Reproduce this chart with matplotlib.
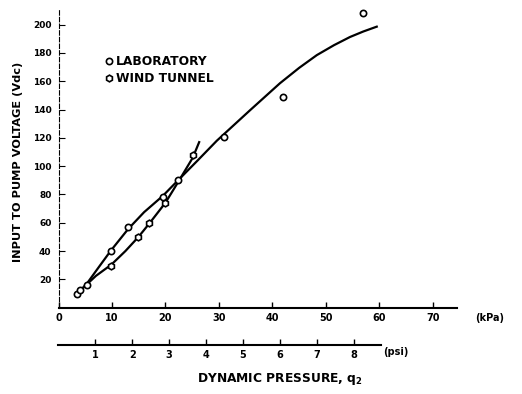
import matplotlib.pyplot as plt
import numpy as np
from matplotlib.lines import Line2D

# points (kPa, Vdc)
lab_q = [3.4, 4.0, 5.3, 9.8, 13.0, 19.5, 22.4, 30.9, 41.9, 57.0]
lab_v = [9.5, 12.5, 16.1, 40.4, 56.8, 78.4, 90.2, 120.8, 149.0, 208.0]

wt_q = [9.9, 14.9, 17.0, 20.0, 25.1]
wt_v = [29.8, 49.8, 59.6, 74.2, 107.9]

# faired curves
lab_curve_q = [3.4, 5.3, 7.5, 9.8, 13.0, 16.0, 19.5, 22.4, 26.0, 29.6, 35.8,
               41.4, 45.0, 48.3, 51.5, 54.5, 57.0, 59.5]
lab_curve_v = [9.5, 17.0, 28.5, 40.4, 55.5, 67.5, 79.0, 90.2, 104.0, 118.0, 139.5,
               158.6, 169.5, 178.5, 185.5, 191.3, 195.2, 198.6]

wt_curve_q = [3.4, 5.3, 7.0, 9.9, 12.5, 14.9, 17.0, 20.0, 22.4, 25.1, 26.3]
wt_curve_v = [9.5, 16.5, 22.5, 30.5, 40.0, 49.8, 59.6, 74.2, 89.0, 106.0, 117.0]

kpa_ticks = [0, 10, 20, 30, 40, 50, 60, 70]
psi_ticks = [1, 2, 3, 4, 5, 6, 7, 8]
volt_ticks = [20, 40, 60, 80, 100, 120, 140, 160, 180, 200]

KPA_PER_PSI = 6.89476

plt.rcParams['font.family'] = 'DejaVu Sans'
plt.rcParams['font.weight'] = 'bold'

fig = plt.figure(figsize=(5.22, 3.94), dpi=100)
ax = fig.add_axes([58.5 / 522, 1 - 307.7 / 394, 399 / 522, 300 / 394])

ax.plot(lab_curve_q, lab_curve_v, color='black', lw=1.6, zorder=2,
        solid_joinstyle='round')
ax.plot(wt_curve_q, wt_curve_v, color='black', lw=1.6, zorder=2,
        solid_joinstyle='round')
ax.plot(lab_q, lab_v, ls='none', marker='o', ms=4.5, mfc='white',
        mec='black', mew=1.2, zorder=3)
ax.plot(wt_q, wt_v, ls='none', marker='h', ms=4.8, mfc='white',
        mec='black', mew=1.2, zorder=3)

ax.set_xlim(0, 74.6)
ax.set_ylim(0, 212)

for s in ['top', 'right']:
    ax.spines[s].set_visible(False)
ax.spines['bottom'].set_linewidth(1.5)
ax.spines['left'].set_linewidth(0.8)
ax.spines['left'].set_linestyle((0, (4, 2)))

ax.set_xticks(kpa_ticks)
ax.set_xticklabels([str(t) for t in kpa_ticks])
ax.set_yticks(volt_ticks)
ax.set_yticklabels([str(t) for t in volt_ticks])
ax.tick_params(axis='x', direction='in', length=4, width=1, labelsize=7, pad=4)
ax.tick_params(axis='y', direction='in', length=4, width=0.8, labelsize=6.5, pad=5)

# second pressure scale in psi
sec = ax.secondary_xaxis(-0.124, functions=(lambda x: x / KPA_PER_PSI,
                                            lambda p: p * KPA_PER_PSI))
sec.set_xticks(psi_ticks)
sec.set_xticklabels([str(t) for t in psi_ticks])
sec.spines['bottom'].set_linewidth(1.5)
sec.spines['bottom'].set_bounds(0, 8.75)
sec.tick_params(axis='x', direction='in', length=4, width=1, labelsize=7, pad=4)

fig.text(490 / 522, 1 - 318 / 394, '(kPa)', fontsize=7, ha='center', va='center')
fig.text(396 / 522, 1 - 352 / 394, '(psi)', fontsize=7, ha='center', va='center')
fig.text(280 / 522, 1 - 379 / 394, 'DYNAMIC PRESSURE, q$_2$', fontsize=8.8,
         ha='center', va='center')
fig.text(18 / 522, 1 - 162 / 394, 'INPUT TO PUMP VOLTAGE (Vdc)', fontsize=8.2,
         rotation=90, ha='center', va='center')

handles = [
    Line2D([], [], ls='none', marker='o', ms=4.5, mfc='white', mec='black', mew=1.2),
    Line2D([], [], ls='none', marker='h', ms=4.8, mfc='white', mec='black', mew=1.2),
]
ax.legend(handles, ['LABORATORY', 'WIND TUNNEL'], frameon=False,
          loc='upper left', bbox_to_anchor=(105 / 522, 1 - 55 / 394),
          bbox_transform=fig.transFigure, borderpad=0, borderaxespad=0,
          handlelength=0.6, handletextpad=0.3, labelspacing=0.35,
          prop={'size': 8.8, 'weight': 'bold'})

fig.savefig('out.png', dpi=100)
